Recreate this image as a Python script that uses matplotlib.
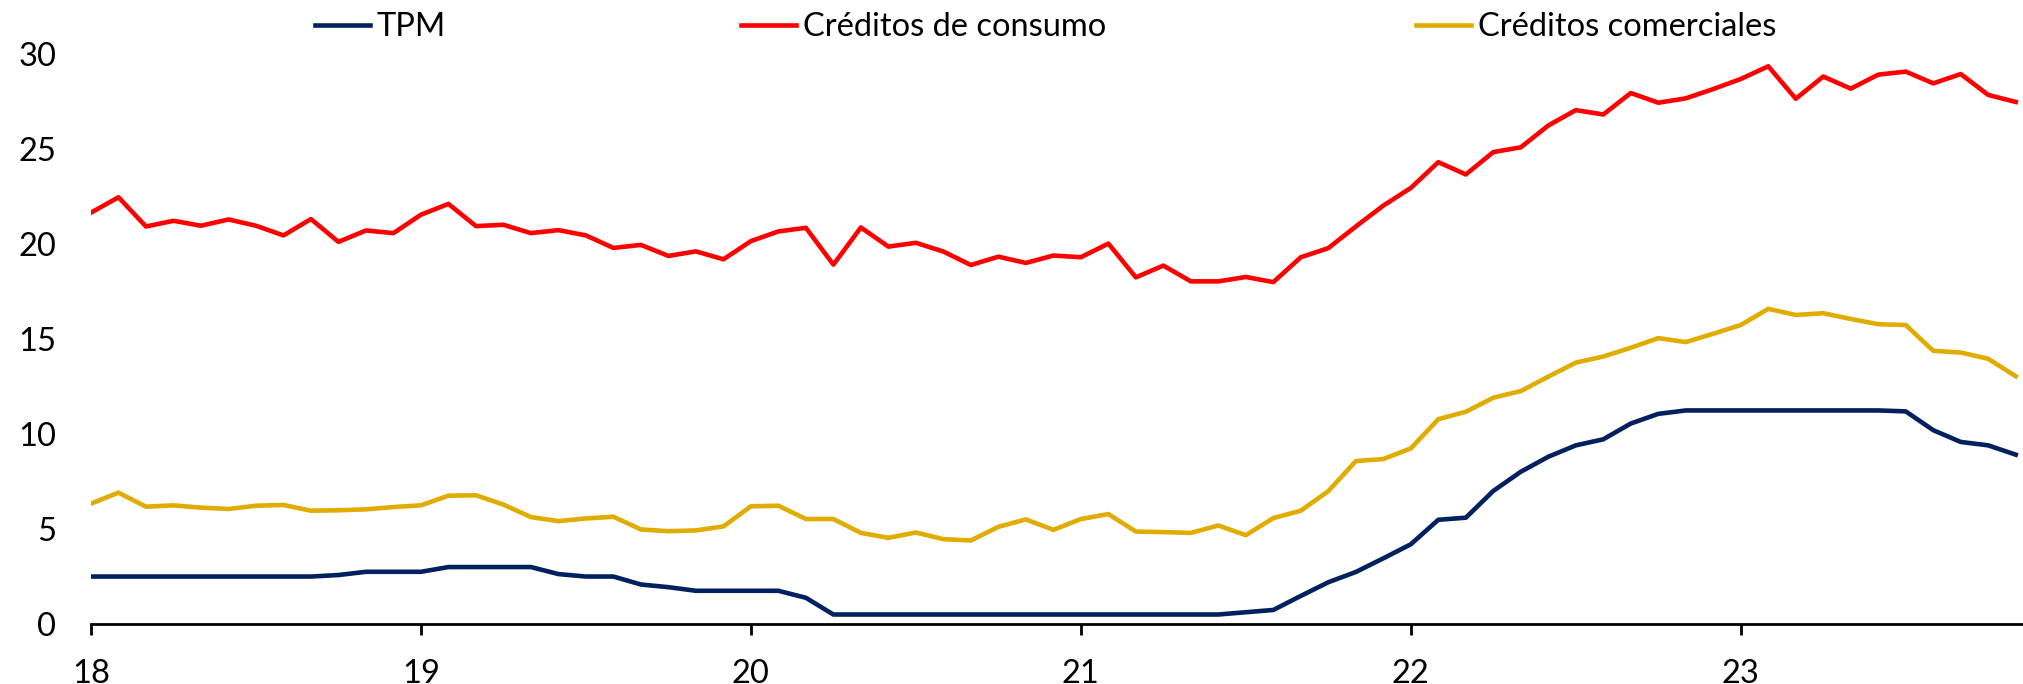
import matplotlib
matplotlib.use("Agg")
import matplotlib.pyplot as plt
import numpy as np

# monthly data, Jan 2018 .. Nov 2023
tpm = [2.5] * 9 + [2.58, 2.75, 2.75, 2.75, 3.0, 3.0, 3.0, 3.0, 2.63, 2.5, 2.5,
                   2.08, 1.94, 1.75, 1.75, 1.75, 1.75, 1.38] \
    + [0.5] * 15 + [0.62, 0.74, 1.48, 2.2, 2.74, 3.46, 4.2, 5.49, 5.6, 7.01,
                    8.02, 8.81, 9.41, 9.73, 10.56, 11.07, 11.25] \
    + [11.25] * 7 + [11.2, 10.21, 9.59, 9.41, 8.92]

consumo = [21.67, 22.48, 20.94, 21.24, 20.98, 21.31, 20.98, 20.47, 21.33, 20.13,
           20.73, 20.59, 21.56, 22.13, 20.96, 21.03, 20.59, 20.75, 20.47, 19.81,
           19.97, 19.39, 19.63, 19.21, 20.17, 20.68, 20.87, 18.93, 20.89, 19.88,
           20.08, 19.62, 18.91, 19.35, 19.02, 19.41, 19.32, 20.04, 18.26, 18.88,
           18.05, 18.05, 18.28, 18.01, 19.32, 19.8, 20.94, 22.04, 22.97, 24.33,
           23.68, 24.86, 25.11, 26.26, 27.07, 26.84, 27.97, 27.46, 27.69, 28.18,
           28.71, 29.38, 27.67, 28.84, 28.2, 28.94, 29.1, 28.48, 28.97, 27.87,
           27.5]

comerciales = [6.34, 6.92, 6.18, 6.25, 6.13, 6.06, 6.23, 6.27, 5.97, 5.99,
               6.04, 6.16, 6.25, 6.76, 6.78, 6.29, 5.63, 5.42, 5.56, 5.65,
               4.98, 4.89, 4.93, 5.14, 6.2, 6.23, 5.53, 5.53, 4.8, 4.54,
               4.82, 4.47, 4.4, 5.12, 5.51, 4.96, 5.53, 5.79, 4.87, 4.84,
               4.8, 5.19, 4.68, 5.58, 5.97, 7.0, 8.58, 8.69, 9.25, 10.79,
               11.18, 11.92, 12.27, 13.03, 13.77, 14.09, 14.55, 15.06, 14.85, 15.29,
               15.75, 16.6, 16.28, 16.37, 16.07, 15.79, 15.75, 14.39, 14.3, 13.97,
               13.05]

year_labels = ['18', '19', '20', '21', '22', '23']

plt.rcParams['font.family'] = ['Lato', 'DejaVu Sans']
plt.rcParams['font.size'] = 23.5

months = np.arange(len(consumo))
W, H = 2024, 684

fig = plt.figure(figsize=(W / 100, H / 100), dpi=100)
ax = fig.add_axes([91 / W, 60 / H, 1 - 91 / W, (624 - 54.5) / H])

l1, = ax.plot(months, tpm, color='#002060', lw=3.3, label='TPM')
l2, = ax.plot(months, consumo, color='#FF0000', lw=3.3, label='Créditos de consumo')
l3, = ax.plot(months, comerciales, color='#E1AC00', lw=3.3, label='Créditos comerciales')

ax.set_xlim(0, 70.3)
ax.set_ylim(0, 30)
ax.set_yticks(range(0, 31, 5))
ax.set_xticks(months[::12])
ax.set_xticklabels(year_labels)

for s in ['top', 'right', 'left']:
    ax.spines[s].set_visible(False)
ax.spines['bottom'].set_linewidth(2)
ax.tick_params(axis='y', length=0, pad=25)
ax.tick_params(axis='x', direction='out', length=8, width=2, pad=17.5)

# legend entries sit at uneven spots along the top, one small legend each
for line, x0 in [(l1, 315), (l2, 741), (l3, 1416)]:
    fig.legend(handles=[line], loc='center left',
               bbox_to_anchor=(x0 / W, 1 - 27.5 / H), frameon=False,
               borderpad=0, borderaxespad=0, handlelength=1.69,
               handletextpad=0.2)

fig.savefig('out.png', dpi=100)
